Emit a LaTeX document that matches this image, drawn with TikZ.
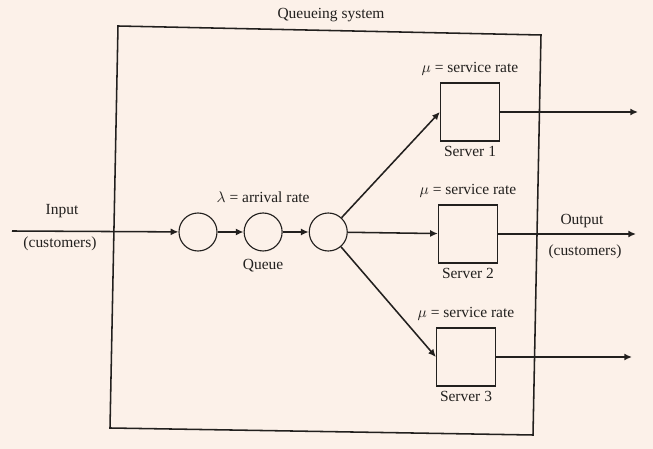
\documentclass[tikz,border=0pt]{standalone}
\usepackage{fontspec}
\setmainfont{Liberation Serif}
\usetikzlibrary{positioning, arrows.meta}
\definecolor{paper}{RGB}{252,241,233}
\definecolor{ink}{RGB}{34,32,30}

\begin{document}
\begin{tikzpicture}[
  every node/.style={font=\fontsize{11}{13}\selectfont, text=ink},
  line/.style={draw=ink, line width=1.1pt},
  flow/.style={line, -{Latex[length=5.5pt, width=5pt]}},
  slot/.style={circle, draw=ink, line width=0.8pt, minimum size=0.95cm, inner sep=0pt},
  server/.style={rectangle, draw=ink, line width=0.9pt,
                 minimum width=1.475cm, minimum height=1.45cm, inner sep=0pt},
]
  % page
  \fill[paper] (0,0) rectangle (16.325,11.225);
  \useasboundingbox (0,0) rectangle (16.325,11.225);

  % system boundary (page is slightly tilted)
  \draw[line] (2.95,10.575) -- (13.525,10.35) -- (13.325,0.35) -- (2.75,0.525) -- cycle;
  \node (title) at (8.275,10.85) {Queueing system};

  % waiting line
  \node[slot] (q1) at (4.95,5.425) {};
  \node[slot, right=0.65cm of q1] (q2) {};
  \node[slot, right=0.65cm of q2] (q3) {};
  \node[above=0.12cm of q2] (lambda) {$\lambda$ = arrival rate};
  \node[below=0.06cm of q2] (queue) {Queue};

  % servers
  \node[server] (s1) at (11.75,8.425) {};
  \node[server] (s2) at (11.7,5.375) {};
  \node[server] (s3) at (11.65,2.3) {};
  \foreach \i in {1,2,3} {
    \node[above=0.05cm of s\i] (rate\i) {$\mu$ = service rate};
    \node[below=0cm of s\i] (name\i) {Server \i};
  }

  % arrivals and departures
  \coordinate (in) at (0.3,5.45);
  \node (inlbl) at (1.55,5.95) {Input};
  \node (incust) at (1.5,5.12) {(customers)};
  \coordinate (out1) at (15.95,8.425);
  \coordinate (out2) at (15.9,5.375);
  \coordinate (out3) at (15.8,2.3);
  \node (outlbl) at (14.55,5.7) {Output};
  \node (outcust) at (14.625,4.93) {(customers)};

  \draw[flow] (in) -- (q1);
  \draw[flow] (q1) -- (q2);
  \draw[flow] (q2) -- (q3);
  \draw[flow] (q3) -- (s1.west);
  \draw[flow] (q3) -- (s2);
  \draw[flow] (q3) -- (s3.west);
  \foreach \i in {1,2,3}
    \draw[flow] (s\i) -- (out\i);
\end{tikzpicture}
\end{document}
